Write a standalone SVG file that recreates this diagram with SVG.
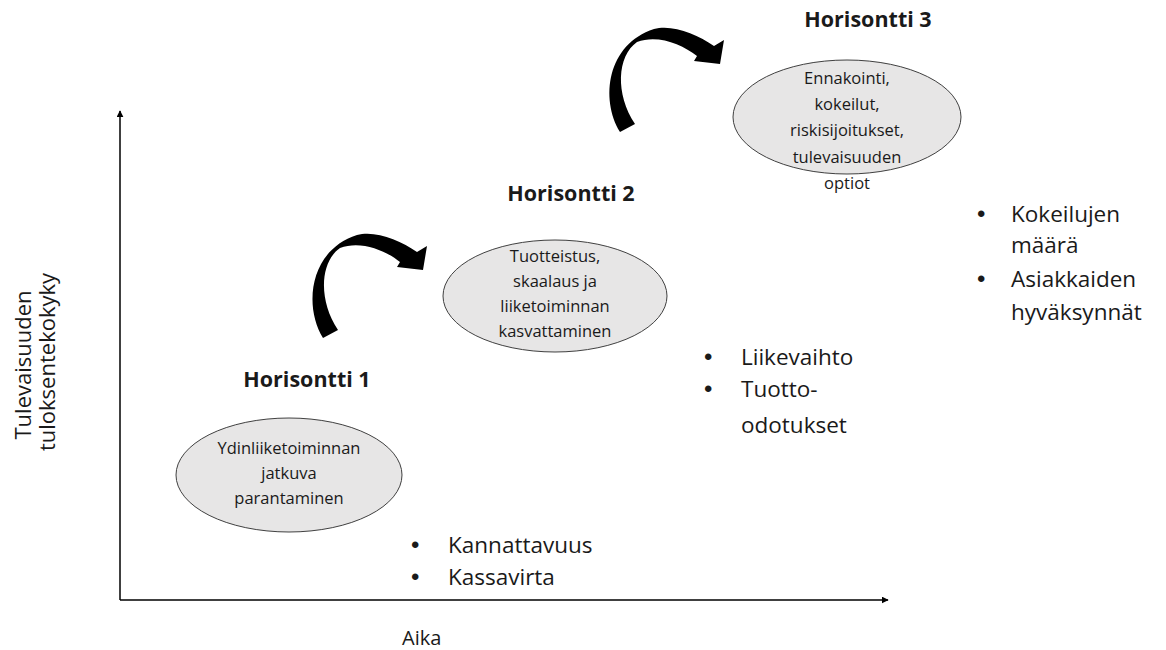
<svg xmlns="http://www.w3.org/2000/svg" width="1166" height="650" viewBox="0 0 1166 650">
<style>
text{font-family:"Open Sans","Liberation Sans",sans-serif;fill:#1a1a1a;font-variant-ligatures:none}
.t{font-size:16.5px;text-anchor:middle}
.h{font-size:21.5px;font-weight:bold;text-anchor:middle}
.b{font-size:22.5px}
.d{font-family:"Liberation Sans",sans-serif;font-size:24px}
.y{font-size:22px;text-anchor:middle}
.ax{stroke:#000;stroke-width:1.5;fill:none}
.el{fill:#e7e6e6;stroke:#404040;stroke-width:1}
</style>
<defs>
<marker id="ah" viewBox="0 0 10 10" refX="9" refY="5" markerWidth="7" markerHeight="7" markerUnits="userSpaceOnUse" orient="auto"><path d="M0,0 L10,5 L0,10 Z" fill="#000"/></marker>
<path id="carrow" d="M323,338 C303,305 310,250 357,235 C375,230 400,240 417,252 L427,246 L423,270 L397,267 L400,262 C385,250 360,240 340,248 C320,262 318,300 338,330 Z" fill="#000"/>
</defs>
<g id="connectors">
<line class="ax" x1="120" y1="600" x2="120" y2="111" marker-end="url(#ah)"/>
<line class="ax" x1="120" y1="600" x2="888" y2="600" marker-end="url(#ah)"/>
<use href="#carrow"/>
<use href="#carrow" transform="translate(297,-206)"/>
</g>
<g id="axis-labels">
<text class="b" x="402" y="645" style="font-size:20px">Aika</text>
<text class="y" transform="translate(31,365) rotate(-90)">Tulevaisuuden</text>
<text class="y" transform="translate(55,362) rotate(-90)">tuloksentekokyky</text>
</g>
<g id="h1">
<text class="h" x="307" y="387">Horisontti 1</text>
<ellipse class="el" cx="289" cy="475" rx="113" ry="57"/>
<text class="t" x="289" y="454">Ydinliiketoiminnan</text>
<text class="t" x="289" y="479">jatkuva</text>
<text class="t" x="289" y="504">parantaminen</text>
</g>
<g id="h2">
<text class="h" x="571" y="201">Horisontti 2</text>
<ellipse class="el" cx="555" cy="296" rx="112" ry="56"/>
<text class="t" x="555" y="262">Tuotteistus,</text>
<text class="t" x="555" y="287">skaalaus ja</text>
<text class="t" x="555" y="312">liiketoiminnan</text>
<text class="t" x="555" y="337">kasvattaminen</text>
</g>
<g id="h3">
<text class="h" x="868" y="27">Horisontti 3</text>
<ellipse class="el" cx="847" cy="117" rx="114" ry="57"/>
<text class="t" x="847" y="84">Ennakointi,</text>
<text class="t" x="847" y="110">kokeilut,</text>
<text class="t" x="847" y="136">riskisijoitukset,</text>
<text class="t" x="847" y="163">tulevaisuuden</text>
<text class="t" x="847" y="189">optiot</text>
</g>
<g id="m1">
<text class="d" x="411" y="553">•</text><text class="b" x="448" y="553">Kannattavuus</text>
<text class="d" x="411" y="585">•</text><text class="b" x="448" y="585">Kassavirta</text>
</g>
<g id="m2">
<text class="d" x="704" y="365">•</text><text class="b" x="741" y="365">Liikevaihto</text>
<text class="d" x="704" y="397">•</text><text class="b" x="741" y="397">Tuotto-</text>
<text class="b" x="741" y="433">odotukset</text>
</g>
<g id="m3">
<text class="d" x="977" y="222">•</text><text class="b" x="1011" y="222">Kokeilujen</text>
<text class="b" x="1011" y="253">määrä</text>
<text class="d" x="977" y="287">•</text><text class="b" x="1011" y="287">Asiakkaiden</text>
<text class="b" x="1011" y="320">hyväksynnät</text>
</g>
</svg>
